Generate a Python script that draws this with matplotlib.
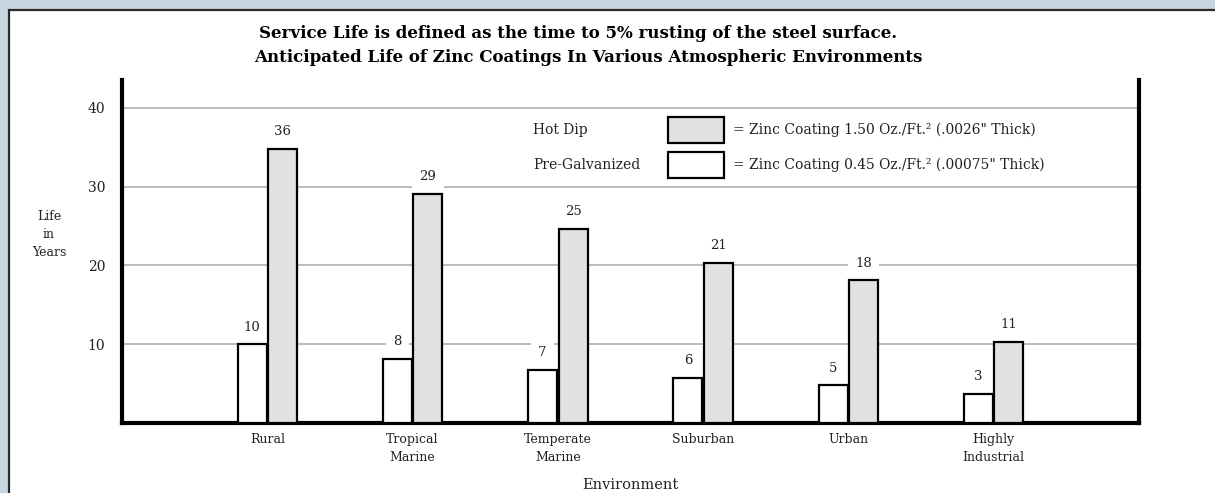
import numpy as np
import matplotlib.pyplot as plt
from matplotlib.patches import Rectangle

# data
environments = ['Rural', 'Tropical\nMarine', 'Temperate\nMarine', 'Suburban', 'Urban', 'Highly\nIndustrial']
pre_galv = [10, 8.2, 6.8, 5.7, 4.8, 3.7]
hot_dip = [34.8, 29.1, 24.6, 20.3, 18.1, 10.3]
pre_labels = ['10', '8', '7', '6', '5', '3']
hot_labels = ['36', '29', '25', '21', '18', '11']
yticks = [10, 20, 30, 40]

legend_names = ['Hot Dip', 'Pre-Galvanized']
legend_desc = ['= Zinc Coating 1.50 Oz./Ft.\u00b2 (.0026" Thick)',
               '= Zinc Coating 0.45 Oz./Ft.\u00b2 (.00075" Thick)']
legend_fill = ['#e0e1e3', 'white']

title1 = 'Service Life is defined as the time to 5% rusting of the steel surface.'
title2 = 'Anticipated Life of Zinc Coatings In Various Atmospheric Environments'

W, H = 1215, 493
SERIF = 'DejaVu Serif'
TXT = '#222222'

fig = plt.figure(figsize=(W / 100, H / 100), dpi=100)
fig.patch.set_facecolor('#c8d6e0')

# white panel with dark top/left edge
fig.add_artist(Rectangle((9 / W, -0.1), 1.2, 1.1 - 10 / H, transform=fig.transFigure,
                         facecolor='white', edgecolor='#2a2a2a', lw=1.6, zorder=0))

def fx(px):
    return px / W

def fy(py):
    return 1 - py / H

ax = fig.add_axes([fx(122), fy(423.3), (1139 - 122) / W, (423.3 - 80) / H])
ax.set_facecolor('none')

x = np.arange(len(environments))
bw = 0.2
off = 0.105
b1 = ax.bar(x - off, pre_galv, width=bw, facecolor='white', edgecolor='black', lw=1.6, zorder=3)
b2 = ax.bar(x + off, hot_dip, width=bw, facecolor='#e0e1e3', edgecolor='black', lw=1.6, zorder=3)

# value labels sit on a white box that breaks the gridlines but stays under the bars
for bars, labs in [(b1, pre_labels), (b2, hot_labels)]:
    for r, lab in zip(bars, labs):
        ax.annotate(lab, (r.get_x() + r.get_width() / 2, r.get_height()),
                    xytext=(0, 12.5), textcoords='offset points', ha='center', va='center',
                    fontsize=9.5, family=SERIF, color=TXT, zorder=2,
                    bbox=dict(boxstyle='square,pad=0.55', fc='white', ec='none'))

ax.set_xlim(-1, 6)
ax.set_ylim(0, 43.5)
ax.set_yticks(yticks)
ax.set_yticklabels([str(t) for t in yticks], family=SERIF, fontsize=10, color=TXT)
ax.set_xticks(x)
ax.set_xticklabels(environments, family=SERIF, fontsize=9, color=TXT, linespacing=1.5)
ax.tick_params(axis='both', length=0)
ax.tick_params(axis='y', pad=12)
ax.tick_params(axis='x', pad=7)
ax.yaxis.grid(True, color='#a8a8a8', lw=1.1, zorder=1)
ax.set_axisbelow(True)

for s in ['left', 'right', 'bottom']:
    ax.spines[s].set_linewidth(3)
    ax.spines[s].set_color('black')
ax.spines['top'].set_visible(False)

# titles
fig.text(fx(578), fy(34), title1, ha='center', va='center', family=SERIF,
         fontweight='bold', fontsize=12, color='black')
fig.text(fx(588), fy(58), title2, ha='center', va='center', family=SERIF,
         fontweight='bold', fontsize=12, color='black')

# y label
fig.text(fx(49), fy(235), 'Life\nin\nYears', ha='center', va='center', family=SERIF,
         fontsize=9, color=TXT, linespacing=1.5)
# x label
fig.text(fx(630), fy(485), 'Environment', ha='center', va='center', family=SERIF,
         fontsize=10.5, color=TXT)

# legend
for i, (name, desc, fc) in enumerate(zip(legend_names, legend_desc, legend_fill)):
    yc = 130 + i * 35
    fig.text(fx(533), fy(yc), name, ha='left', va='center', family=SERIF, fontsize=10, color=TXT)
    fig.add_artist(Rectangle((fx(668), fy(yc + 13)), 56 / W, 26 / H, transform=fig.transFigure,
                             facecolor=fc, edgecolor='black', lw=1.6, zorder=5))
    fig.text(fx(733), fy(yc), desc, ha='left', va='center', family=SERIF, fontsize=10, color=TXT)

fig.savefig('out.png', dpi=100)
